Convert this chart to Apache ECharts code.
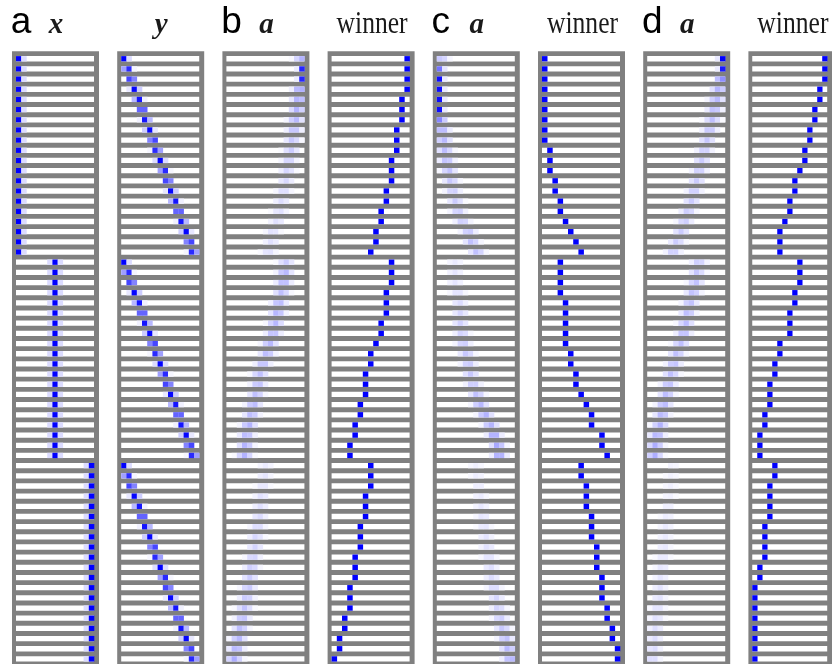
<!DOCTYPE html>
<html><head><meta charset="utf-8">
<script src="https://cdn.jsdelivr.net/npm/echarts@6/dist/echarts.min.js"></script>
<style>html,body{margin:0;padding:0;background:#fff}#c{width:832px;height:664px}</style>
</head><body><div id="c"></div>
<script>
// ---- data (unit index 0..14 of a 15-unit population, 60 trials) ----
const unitCount = 15;
const rowCount = 60;
const panelLabels = ['x', 'y', 'a', 'winner', 'a', 'winner', 'a', 'winner'];
const panelLetters = ['a', 'b', 'c', 'd'];

const xPos = [0,0,0,0,0,0,0,0,0,0,0,0,0,0,0,0,0,0,0,0,
  7,7,7,7,7,7,7,7,7,7,7,7,7,7,7,7,7,7,7,7,
  14,14,14,14,14,14,14,14,14,14,14,14,14,14,14,14,14,14,14,14];
const yPos = [0,0.7,1.4,2.1,2.8,3.5,4.2,4.9,5.6,6.3,7,7.7,8.4,9.1,9.8,10.5,11.2,11.9,12.6,13.3,
  0,0.7,1.4,2.1,2.8,3.5,4.2,4.9,5.6,6.3,7,7.7,8.4,9.1,9.8,10.5,11.2,11.9,12.6,13.3,
  0,0.7,1.4,2.1,2.8,3.5,4.2,4.9,5.6,6.3,7,7.7,8.4,9.1,9.8,10.5,11.2,11.9,12.6,13.3];

const bPeak = [14,14,14,13.6,13.4,13.1,12.8,12.5,12.2,11.9,11.5,11.2,10.9,10.5,10.1,9.7,9.2,8.4,8.1,7.6,
  10.9,10.7,10.5,10.1,9.6,9.3,8.9,8.5,7.8,7.3,6.5,5.9,5.6,5.2,4.7,4.3,3.8,3.4,3.2,3.0,
  7,6.8,6.5,6.2,6,5.8,5.5,5.2,5,4.6,4.3,4,3.7,3.4,3,2.6,2.2,1.8,1.4,1];
const bAmp = [0.3,0.85,0.85,0.35,0.32,0.3,0.28,0.25,0.22,0.2,0.18,0.16,0.15,0.14,0.13,0.12,0.12,0.12,0.12,0.12,
  0.2,0.28,0.28,0.25,0.28,0.3,0.28,0.26,0.28,0.27,0.25,0.25,0.25,0.25,0.27,0.27,0.3,0.28,0.3,0.3,
  0.08,0.1,0.1,0.12,0.12,0.14,0.15,0.16,0.17,0.18,0.2,0.2,0.22,0.22,0.24,0.25,0.26,0.28,0.3,0.32];
const bWin = [14,14,14,14,13,13,13,12,12,12,11,11,11,10,10,9,9,8,8,7,
  11,11,11,10,10,10,9,9,8,7,7,6,6,6,5,5,4,4,3,3,
  7,7,7,6,6,6,5,5,5,4,4,4,3,3,3,2,2,1,1,0];

const cPeak = [0.3,0,0,0,0,0,0.2,0.5,0.8,1.1,1.4,1.8,2.2,2.6,3.1,3.6,4.4,5.6,6.2,7.2,
  3,3,3,3.5,3.8,4,4,4.3,4.6,5.2,5.6,6,6.5,7.2,7.8,8.8,9.8,10.5,11.2,11.5,
  7,7.2,7.5,7.8,8,8.3,8.6,8.9,9.2,9.5,9.8,10.1,10.5,10.9,11.3,11.7,12.2,12.7,13.2,13.6];
const cAmp = [0.22,0.55,0.95,0.95,0.95,0.95,0.5,0.3,0.28,0.26,0.25,0.24,0.22,0.2,0.2,0.2,0.2,0.22,0.25,0.25,
  0.08,0.1,0.1,0.12,0.14,0.16,0.18,0.18,0.2,0.22,0.22,0.22,0.22,0.25,0.28,0.3,0.3,0.35,0.35,0.35,
  0.06,0.07,0.08,0.08,0.09,0.1,0.1,0.11,0.12,0.12,0.13,0.14,0.15,0.16,0.18,0.2,0.22,0.25,0.28,0.3];
const cWin = [0,0,0,0,0,0,0,0,0,1,1,1,2,2,3,3,4,5,6,7,
  3,3,3,3,4,4,4,4,4,5,5,6,6,7,8,9,9,11,11,12,
  7,7,8,8,8,9,9,9,10,10,10,11,11,11,12,12,13,13,14,14];

const dPeak = [14,14,13.7,13.2,12.8,12.4,12,11.5,11,10.5,10,9.5,9,8.5,8,7.3,6.7,6,5.2,4.5,
  9.4,9.1,8.8,8.3,7.7,7.3,6.9,6.5,5.9,5.2,4.6,4.1,3.6,3.2,2.7,2.3,1.9,1.4,1.1,0.9,
  4.3,4.1,3.9,3.7,3.5,3.3,3.1,2.9,2.7,2.5,2.3,2.1,1.9,1.7,1.5,1.3,1.1,0.9,0.7,0.5];
const dAmp = [1,0.9,0.5,0.3,0.28,0.26,0.25,0.24,0.22,0.2,0.2,0.2,0.2,0.2,0.2,0.2,0.2,0.2,0.2,0.2,
  0.2,0.22,0.24,0.25,0.25,0.26,0.26,0.26,0.25,0.25,0.25,0.25,0.25,0.26,0.27,0.28,0.3,0.3,0.32,0.32,
  0.05,0.05,0.06,0.06,0.07,0.07,0.08,0.08,0.09,0.09,0.1,0.1,0.11,0.11,0.12,0.12,0.13,0.13,0.14,0.15];
const dWin = [14,14,14,13,13,12,12,11,11,10,10,9,8,8,7,7,6,5,5,5,
  9,9,9,8,8,7,7,7,5,5,4,4,3,3,3,2,2,1,1,1,
  4,4,3,3,3,3,2,2,2,2,1,1,0,0,0,0,0,0,0,0];

// ---- visual encoding of each row into unit activations ----
const panels = [
  {kind: 'pop', pos: xPos}, {kind: 'pop', pos: yPos},
  {kind: 'dist', peak: bPeak, amp: bAmp}, {kind: 'win', col: bWin},
  {kind: 'dist', peak: cPeak, amp: cAmp}, {kind: 'win', col: cWin},
  {kind: 'dist', peak: dPeak, amp: dAmp}, {kind: 'win', col: dWin}
];

function activations(p, r) {
  const out = [];
  for (let u = 0; u < unitCount; u++) {
    let v = 0;
    if (p.kind === 'pop') {
      const d = u - p.pos[r];
      v = Math.exp(-d * d / (2 * 0.5 * 0.5));
    } else if (p.kind === 'win') {
      v = (u === p.col[r]) ? 1 : 0;
    } else {
      const a = p.amp[r];
      const s = Math.min(0.9, Math.max(0.45, 0.3 / a));
      const d = u - p.peak[r];
      v = a * Math.exp(-d * d / (2 * s * s));
    }
    if (v > 0.02) out.push([u, r, Math.min(1, v)]);
  }
  return out;
}

function colorOf(v) {
  const g = Math.round(255 * (1 - v));
  return 'rgb(' + g + ',' + g + ',255)';
}

const rowsIdx = [];
for (let r = 0; r < rowCount; r++) rowsIdx.push([0, r]);

const chart = echarts.init(document.getElementById('c'), null, {renderer: 'canvas'});
const grids = [], xAxes = [], yAxes = [], series = [], graphics = [];
const pitch = 105.2, gLeft0 = 12, gTop = 51.3, gW = 87, gH = 612.7;
const base = 35;

panels.forEach((p, i) => {
  const left = gLeft0 + pitch * i;
  grids.push({left: left, top: gTop, width: gW, height: gH, show: true,
    backgroundColor: '#808080', borderWidth: 0, containLabel: false});
  xAxes.push({type: 'value', gridIndex: i, min: -0.77, max: 15.96, show: false});
  yAxes.push({type: 'value', gridIndex: i, min: -0.232, max: 60.0, inverse: true, show: false});
  series.push({
    type: 'custom', xAxisIndex: i, yAxisIndex: i, silent: true, animation: false,
    data: rowsIdx,
    renderItem: function (params, api) {
      const r = api.value(1);
      const p0 = api.coord([0, r + 0.24]);
      const p1 = api.coord([unitCount, r + 0.76]);
      return {type: 'rect', shape: {x: p0[0], y: Math.min(p0[1], p1[1]),
        width: p1[0] - p0[0], height: Math.abs(p1[1] - p0[1])},
        style: {fill: '#ffffff'}};
    }
  });
  let cells = [];
  for (let r = 0; r < rowCount; r++) cells = cells.concat(activations(p, r));
  series.push({
    type: 'custom', xAxisIndex: i, yAxisIndex: i, silent: true, animation: false,
    data: cells,
    renderItem: function (params, api) {
      const u = api.value(0), r = api.value(1), v = api.value(2);
      const p0 = api.coord([u, r + 0.24]);
      const p1 = api.coord([u + 1, r + 0.76]);
      return {type: 'rect', shape: {x: p0[0], y: Math.min(p0[1], p1[1]),
        width: p1[0] - p0[0] + 0.3, height: Math.abs(p1[1] - p0[1])},
        style: {fill: colorOf(v)}};
    }
  });
  const cx = left + gW / 2;
  if (panelLabels[i] === 'winner') {
    graphics.push({type: 'text', x: cx + 1, y: base - 0.32 * 32, scaleX: 0.8, silent: true,
      style: {text: 'winner', font: '32px "Liberation Serif"', fill: '#1a1a1a',
        align: 'center', verticalAlign: 'middle'}});
  } else {
    graphics.push({type: 'text', x: cx + 0.5, y: base - 0.32 * 29, silent: true,
      style: {text: panelLabels[i], font: 'italic bold 29px "Liberation Serif"', fill: '#1a1a1a',
        align: 'center', verticalAlign: 'middle'}});
  }
  if (i % 2 === 0) {
    graphics.push({type: 'text', x: left - 1.2, y: base - 0.32 * 37, silent: true,
      style: {text: panelLetters[i / 2], font: '37px "Liberation Sans"', fill: '#000',
        align: 'left', verticalAlign: 'middle'}});
  }
});

chart.setOption({
  animation: false,
  grid: grids, xAxis: xAxes, yAxis: yAxes, series: series, graphic: graphics
});
</script>
</body></html>
